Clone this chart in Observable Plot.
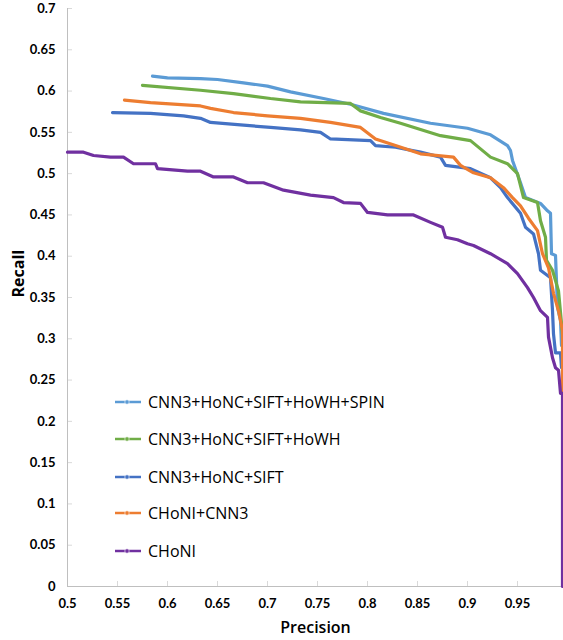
<!DOCTYPE html>
<html><head><meta charset="utf-8">
<script src="https://cdn.jsdelivr.net/npm/d3@7"></script>
<script src="https://cdn.jsdelivr.net/npm/@observablehq/plot@0.6"></script>
<style>
body{margin:0;overflow:hidden;background:#fff;}
#wrap{position:relative;width:563px;height:640px;overflow:hidden;}
#legend{position:absolute;left:115px;top:0;font-family:"Open Sans",sans-serif;font-size:16px;color:#000;}
.item{position:absolute;left:0;height:22px;display:flex;align-items:center;white-space:nowrap;}
.item svg{margin-right:7px;}
</style></head><body><div id="wrap"><div id="legend"></div></div>
<script>
const seriesNames = ["CNN3+HoNC+SIFT+HoWH+SPIN", "CNN3+HoNC+SIFT+HoWH", "CNN3+HoNC+SIFT", "CHoNI+CNN3", "CHoNI"];
const seriesColors = ["#5B9BD5", "#70AD47", "#4472C4", "#ED7D31", "#7030A0"];
const xTicks = [0.5,0.55,0.6,0.65,0.7,0.75,0.8,0.85,0.9,0.95,1];
const yTicks = [0,0.05,0.1,0.15,0.2,0.25,0.3,0.35,0.4,0.45,0.5,0.55,0.6,0.65,0.7];

// [precision, recall]
const spin = [[0.585,0.618],[0.600,0.616],[0.633,0.615],[0.650,0.614],[0.676,0.610],[0.700,0.606],[0.723,0.599],[0.756,0.591],[0.783,0.584],[0.816,0.573],[0.863,0.561],[0.900,0.555],[0.923,0.547],[0.940,0.534],[0.943,0.528],[0.945,0.516],[0.953,0.489],[0.958,0.471],[0.973,0.464],[0.980,0.455],[0.983,0.452],[0.984,0.403],[0.988,0.401],[0.990,0.338],[0.993,0.322],[0.994,0.292]];
const howh = [[0.575,0.607],[0.633,0.601],[0.666,0.597],[0.703,0.591],[0.733,0.587],[0.783,0.585],[0.793,0.576],[0.813,0.568],[0.833,0.561],[0.873,0.546],[0.903,0.540],[0.913,0.530],[0.923,0.520],[0.940,0.512],[0.950,0.500],[0.956,0.471],[0.970,0.465],[0.973,0.443],[0.978,0.423],[0.979,0.395],[0.985,0.383],[0.991,0.358],[0.995,0.306],[0.996,0.292]];
const sift = [[0.545,0.574],[0.583,0.573],[0.616,0.570],[0.633,0.567],[0.643,0.562],[0.673,0.559],[0.703,0.556],[0.733,0.553],[0.753,0.550],[0.763,0.542],[0.803,0.540],[0.808,0.534],[0.828,0.532],[0.853,0.526],[0.873,0.520],[0.878,0.510],[0.903,0.506],[0.923,0.495],[0.933,0.483],[0.940,0.471],[0.953,0.452],[0.958,0.435],[0.966,0.427],[0.971,0.403],[0.973,0.383],[0.983,0.374],[0.985,0.334],[0.986,0.306],[0.988,0.283],[0.993,0.283],[0.994,0.265]];
const cnn3 = [[0.557,0.589],[0.583,0.586],[0.633,0.582],[0.643,0.579],[0.666,0.574],[0.700,0.570],[0.733,0.567],[0.763,0.562],[0.793,0.556],[0.808,0.542],[0.828,0.534],[0.853,0.524],[0.886,0.520],[0.893,0.510],[0.906,0.501],[0.923,0.495],[0.936,0.483],[0.945,0.471],[0.953,0.461],[0.961,0.446],[0.970,0.431],[0.975,0.403],[0.981,0.386],[0.986,0.355],[0.990,0.338],[0.991,0.334],[0.995,0.310],[0.995,0.234]];
const choni = [[0.500,0.526],[0.516,0.526],[0.526,0.522],[0.543,0.520],[0.556,0.520],[0.566,0.512],[0.588,0.512],[0.590,0.506],[0.620,0.503],[0.633,0.503],[0.646,0.496],[0.666,0.496],[0.680,0.489],[0.696,0.489],[0.716,0.480],[0.743,0.474],[0.766,0.471],[0.776,0.465],[0.793,0.464],[0.800,0.453],[0.820,0.450],[0.846,0.450],[0.863,0.441],[0.875,0.435],[0.878,0.423],[0.890,0.420],[0.900,0.415],[0.906,0.413],[0.923,0.403],[0.940,0.391],[0.950,0.379],[0.960,0.362],[0.966,0.350],[0.973,0.334],[0.980,0.326],[0.981,0.302],[0.985,0.277],[0.988,0.265],[0.991,0.262],[0.993,0.234],[0.995,0.234],[0.995,0]];

const seriesData = [spin, howh, sift, cnn3, choni];
const table = seriesData.flatMap((pts, i) => pts.map(([p, r]) => ({series: seriesNames[i], p, r})));
const fmt = d => d === 0 ? "0" : String(+d.toFixed(2));

const chart = Plot.plot({
  width: 563, height: 640,
  marginLeft: 67, marginRight: 0, marginTop: 8, marginBottom: 54,
  style: {fontFamily: "Lato, sans-serif", fontSize: "13px", overflow: "hidden", background: "white", color: "#000"},
  x: {domain: [0.5, 1], range: [67, 567]},
  y: {domain: [0, 0.7]},
  color: {domain: seriesNames, range: seriesColors},
  marks: [
    Plot.tickY(yTicks, {y: d => d, stroke: "#d9d9d9", insetRight: 563 - 67 - 5}),
    Plot.tickX(xTicks, {x: d => d, stroke: "#d9d9d9", insetTop: 586 - 8 - 5}),
    Plot.ruleX([0.5], {stroke: "#bfbfbf"}),
    Plot.ruleY([0], {stroke: "#bfbfbf"}),
    Plot.axisY({ticks: yTicks, tickSize: 0, tickPadding: 12, tickFormat: fmt, fontWeight: "bold", label: null}),
    Plot.axisX({ticks: xTicks, tickSize: 0, tickPadding: 12, tickFormat: fmt, fontWeight: "bold", label: null}),
    Plot.text(["Recall"], {frameAnchor: "left", dx: -49, rotate: -90, fontSize: 16, fontWeight: "bold", fontFamily: "Open Sans, sans-serif", fill: "#000"}),
    Plot.text(["Precision"], {frameAnchor: "bottom", dy: 46, fontSize: 16, fontWeight: 600, fontFamily: "Open Sans, sans-serif", fill: "#000"}),
    Plot.line(table, {x: "p", y: "r", z: "series", stroke: "series", strokeWidth: 3.2, strokeLinejoin: "round"})
  ]
});
document.getElementById("wrap").prepend(chart);

const legendY = [402, 439, 477, 513, 551];
const legend = d3.select("#legend");
seriesNames.forEach((name, i) => {
  const item = legend.append("div").attr("class", "item").style("top", (legendY[i] - 11) + "px");
  const sw = item.append("svg").attr("width", 26).attr("height", 10);
  sw.append("line").attr("x1", 0).attr("x2", 26).attr("y1", 5).attr("y2", 5).attr("stroke", seriesColors[i]).attr("stroke-width", 2.5);
  sw.append("circle").attr("cx", 12).attr("cy", 5).attr("r", 2.2).attr("fill", seriesColors[i]).attr("stroke", "#fff").attr("stroke-width", 0.6);
  item.append("span").text(name);
});
</script>
</body></html>
